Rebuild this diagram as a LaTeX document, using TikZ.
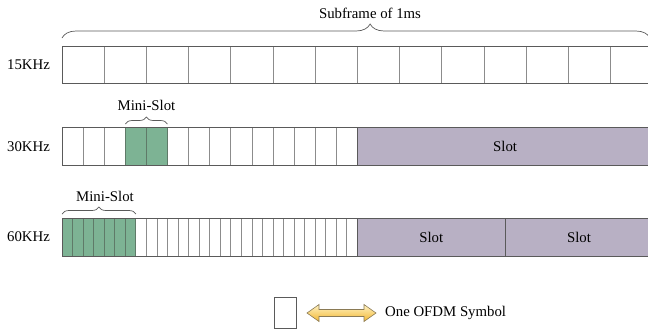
\documentclass[tikz,border=0pt]{standalone}
\usepackage{fontspec}
\setmainfont{Liberation Serif}
\usetikzlibrary{decorations.pathreplacing}
\definecolor{slotgreen}{HTML}{7DB394}
\definecolor{slotpurple}{HTML}{B8B0C4}
\definecolor{edgegray}{HTML}{5A5A5A}
\definecolor{divgray}{HTML}{8C8C8C}
\definecolor{greendiv}{HTML}{5F7A68}
\definecolor{arrowtop}{HTML}{FFF3C4}
\definecolor{arrowbot}{HTML}{F2B630}
\definecolor{arrowedge}{HTML}{8A7A55}
\begin{document}
\begin{tikzpicture}[x=1pt,y=-1pt,
  every node/.style={font=\fontsize{14.8}{17}\selectfont},
  cell/.style={draw=divgray, line width=0.8pt, inner sep=0pt, outer sep=0pt,
               anchor=north west},
  greencell/.style={cell, draw=greendiv, fill=slotgreen},
  slotbox/.style={draw=edgegray, fill=slotpurple, line width=0.8pt,
                  inner sep=0pt, outer sep=0pt, anchor=north west},
  frame/.style={draw=edgegray, line width=0.8pt},
  bracedeco/.style={draw=edgegray, line width=0.7pt, decorate,
                    decoration={brace, amplitude=#1}},
  rowlabel/.style={anchor=center, inner sep=0pt},
  legendarrow/.style={draw=arrowedge, line width=0.6pt, line join=miter,
                      top color=arrowtop, bottom color=arrowbot},
]
\def\cw{42.2}
\clip (0,0) rectangle (648,330);

% ---- 15 kHz: fourteen symbols ----
\foreach \i in {0,...,13}
  \node[cell, minimum width=\cw pt, minimum height=37pt] (ra\i) at ({62+\i*\cw},46) {};
\draw[frame] (ra0.north west) rectangle (ra13.south east);
\node[rowlabel] (la) at (28.5,64.5) {15KHz};

% brace over the whole subframe
\coordinate (bal) at (62,38);
\coordinate (bar) at (650,38);
\draw[bracedeco=14pt, decoration={aspect=0.524}] (bal) -- (bar);
\node[rowlabel] (ta) at (370,13) {Subframe of 1ms};

% ---- 30 kHz: fourteen half symbols and one slot ----
\foreach \i in {0,1,2,5,6,...,13}
  \node[cell, minimum width=\cw/2 pt, minimum height=38pt] (rb\i) at ({62+\i*\cw/2},127.5) {};
\foreach \i in {3,4}
  \node[greencell, minimum width=\cw/2 pt, minimum height=38pt] (rb\i) at ({62+\i*\cw/2},127.5) {};
\node[slotbox, minimum width=7*\cw pt, minimum height=38pt] (sb) at ({62+7*\cw},127.5) {};
\node (sbt) at (sb.center) {Slot};
\draw[frame] (rb0.north west) -- (rb13.north east) (rb0.south west) -- (rb13.south east)
             (rb0.north west) -- (rb0.south west);
\node[rowlabel] (lb) at (28.5,146.5) {30KHz};

\coordinate (bbl) at (rb3.north west |- 0,124);
\coordinate (bbr) at (rb4.north east |- 0,124);
\draw[bracedeco=7pt] (bbl) -- (bbr);
\node[rowlabel] (tb) at (146.5,105.5) {Mini-Slot};

% ---- 60 kHz: twenty-eight quarter symbols and two slots ----
\foreach \i in {7,...,27}
  \node[cell, minimum width=\cw/4 pt, minimum height=38pt] (rc\i) at ({62+\i*\cw/4},218) {};
\foreach \i in {0,...,6}
  \node[greencell, minimum width=\cw/4 pt, minimum height=38pt] (rc\i) at ({62+\i*\cw/4},218) {};
\node[slotbox, minimum width=3.5*\cw pt, minimum height=38pt] (sc1) at ({62+7*\cw},218) {};
\node[slotbox, minimum width=3.5*\cw pt, minimum height=38pt] (sc2) at (sc1.north east) {};
\node (sc1t) at (sc1.center) {Slot};
\node (sc2t) at (sc2.center) {Slot};
\draw[frame] (rc0.north west) -- (rc27.north east) (rc0.south west) -- (rc27.south east)
             (rc0.north west) -- (rc0.south west);
\node[rowlabel] (lc) at (28.5,237) {60KHz};

\coordinate (bcl) at (rc0.north west |- 0,214);
\coordinate (bcr) at (rc6.north east |- 0,214);
\draw[bracedeco=7pt] (bcl) -- (bcr);
\node[rowlabel] (tc) at (105,196.5) {Mini-Slot};

% ---- legend ----
\node[cell, draw=edgegray, minimum width=22pt, minimum height=31pt] (leg) at (274,297) {};
% double-headed block arrow
\path[legendarrow] (307,313) -- (319,304.5) -- (319,309.5) -- (364,309.5) -- (364,304.5)
  -- (376,313) -- (364,321.5) -- (364,316.5) -- (319,316.5) -- (319,321.5) -- cycle;
\node[anchor=west, inner sep=0pt] (legt) at (385,313) {One OFDM Symbol};
\end{tikzpicture}
\end{document}
